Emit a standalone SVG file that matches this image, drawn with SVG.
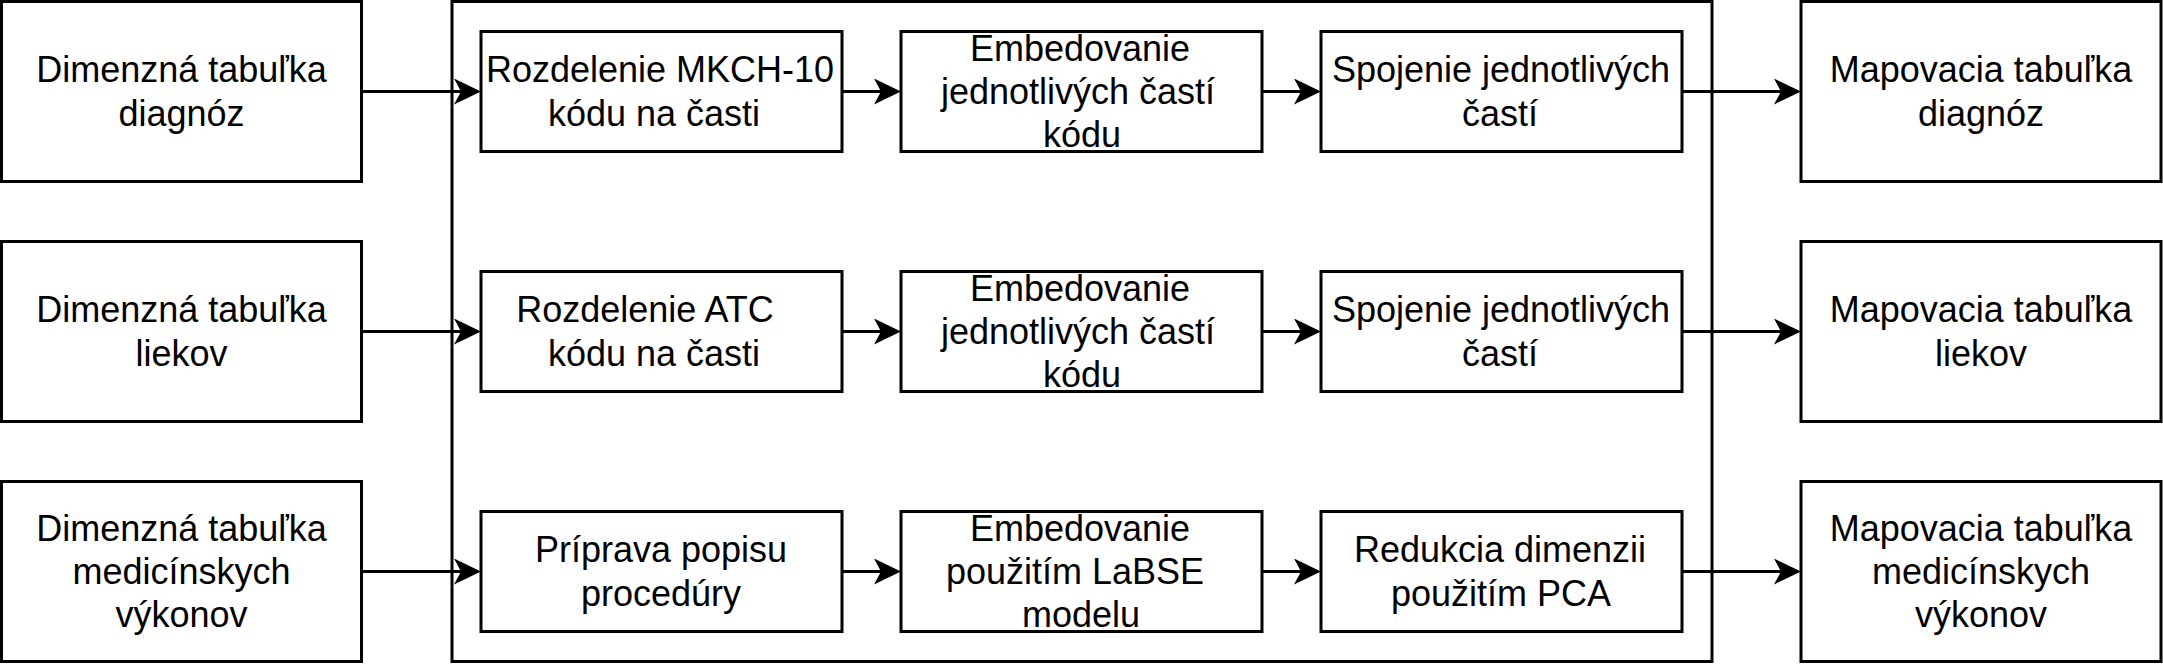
<svg xmlns="http://www.w3.org/2000/svg" width="2163" height="666" viewBox="0 0 2163 666">
<defs>
<style>
.box{fill:#fff;stroke:#000;stroke-width:3}
.frame{fill:none;stroke:#000;stroke-width:3}
.c{fill:none;stroke:#000;stroke-width:3}
.t{font-family:"Liberation Sans",Arial,Helvetica,sans-serif;font-size:36px;text-anchor:middle;fill:#000}
</style>
<marker id="arr" markerUnits="userSpaceOnUse" markerWidth="30" markerHeight="30" viewBox="0 0 30 30" refX="7" refY="13" orient="auto">
<path d="M0,0 L27,13 L0,26 L7,13 Z" fill="#000"/>
</marker>
</defs>
<rect x="0" y="0" width="2163" height="666" fill="#fff"/>
<g id="container"><rect class="frame" x="452" y="1.5" width="1260" height="660"/></g>

<g id="connectors">
<path class="c" d="M361.5,91.5 H461" marker-end="url(#arr)"/>
<path class="c" d="M842,91.5 H881" marker-end="url(#arr)"/>
<path class="c" d="M1262,91.5 H1301" marker-end="url(#arr)"/>
<path class="c" d="M1682,91.5 H1781" marker-end="url(#arr)"/>
<path class="c" d="M361.5,331.5 H461" marker-end="url(#arr)"/>
<path class="c" d="M842,331.5 H881" marker-end="url(#arr)"/>
<path class="c" d="M1262,331.5 H1301" marker-end="url(#arr)"/>
<path class="c" d="M1682,331.5 H1781" marker-end="url(#arr)"/>
<path class="c" d="M361.5,571.5 H461" marker-end="url(#arr)"/>
<path class="c" d="M842,571.5 H881" marker-end="url(#arr)"/>
<path class="c" d="M1262,571.5 H1301" marker-end="url(#arr)"/>
<path class="c" d="M1682,571.5 H1781" marker-end="url(#arr)"/>
</g>

<g id="dim-diagnoz"><rect class="box" x="1.5" y="1.5" width="360" height="180"/>
<text class="t" x="181.5" y="82.4">Dimenzná tabuľka</text><text class="t" x="181.5" y="125.6">diagnóz</text></g>
<g id="rozdelenie-mkch"><rect class="box" x="481" y="31.5" width="361" height="120"/>
<text class="t" x="660" y="82.4">Rozdelenie MKCH-10</text><text class="t" x="654" y="125.6">kódu na časti</text></g>
<g id="embed-1"><rect class="box" x="901" y="31.5" width="361" height="120"/>
<text class="t" x="1080" y="60.8">Embedovanie</text><text class="t" x="1078" y="104">jednotlivých častí</text><text class="t" x="1082" y="147.2">kódu</text></g>
<g id="spojenie-1"><rect class="box" x="1321" y="31.5" width="361" height="120"/>
<text class="t" x="1501" y="82.4">Spojenie jednotlivých</text><text class="t" x="1500" y="125.6">častí</text></g>
<g id="map-diagnoz"><rect class="box" x="1801" y="1.5" width="360" height="180"/>
<text class="t" x="1981" y="82.4">Mapovacia tabuľka</text><text class="t" x="1981" y="125.6">diagnóz</text></g>

<g id="dim-liekov"><rect class="box" x="1.5" y="241.5" width="360" height="180"/>
<text class="t" x="181.5" y="322.4">Dimenzná tabuľka</text><text class="t" x="181.5" y="365.6">liekov</text></g>
<g id="rozdelenie-atc"><rect class="box" x="481" y="271.5" width="361" height="120"/>
<text class="t" x="645" y="322.4">Rozdelenie ATC</text><text class="t" x="654" y="365.6">kódu na časti</text></g>
<g id="embed-2"><rect class="box" x="901" y="271.5" width="361" height="120"/>
<text class="t" x="1080" y="300.8">Embedovanie</text><text class="t" x="1078" y="344">jednotlivých častí</text><text class="t" x="1082" y="387.2">kódu</text></g>
<g id="spojenie-2"><rect class="box" x="1321" y="271.5" width="361" height="120"/>
<text class="t" x="1501" y="322.4">Spojenie jednotlivých</text><text class="t" x="1500" y="365.6">častí</text></g>
<g id="map-liekov"><rect class="box" x="1801" y="241.5" width="360" height="180"/>
<text class="t" x="1981" y="322.4">Mapovacia tabuľka</text><text class="t" x="1981" y="365.6">liekov</text></g>

<g id="dim-vykony"><rect class="box" x="1.5" y="481.5" width="360" height="180"/>
<text class="t" x="181.5" y="540.8">Dimenzná tabuľka</text><text class="t" x="181.5" y="584">medicínskych</text><text class="t" x="181.5" y="627.2">výkonov</text></g>
<g id="priprava"><rect class="box" x="481" y="511.5" width="361" height="120"/>
<text class="t" x="661" y="562.4">Príprava popisu</text><text class="t" x="661" y="605.6">procedúry</text></g>
<g id="embed-labse"><rect class="box" x="901" y="511.5" width="361" height="120"/>
<text class="t" x="1080" y="540.8">Embedovanie</text><text class="t" x="1075" y="584">použitím LaBSE</text><text class="t" x="1081" y="627.2">modelu</text></g>
<g id="redukcia"><rect class="box" x="1321" y="511.5" width="361" height="120"/>
<text class="t" x="1500" y="562.4">Redukcia dimenzii</text><text class="t" x="1501" y="605.6">použitím PCA</text></g>
<g id="map-vykony"><rect class="box" x="1801" y="481.5" width="360" height="180"/>
<text class="t" x="1981" y="540.8">Mapovacia tabuľka</text><text class="t" x="1981" y="584">medicínskych</text><text class="t" x="1981" y="627.2">výkonov</text></g>
</svg>
